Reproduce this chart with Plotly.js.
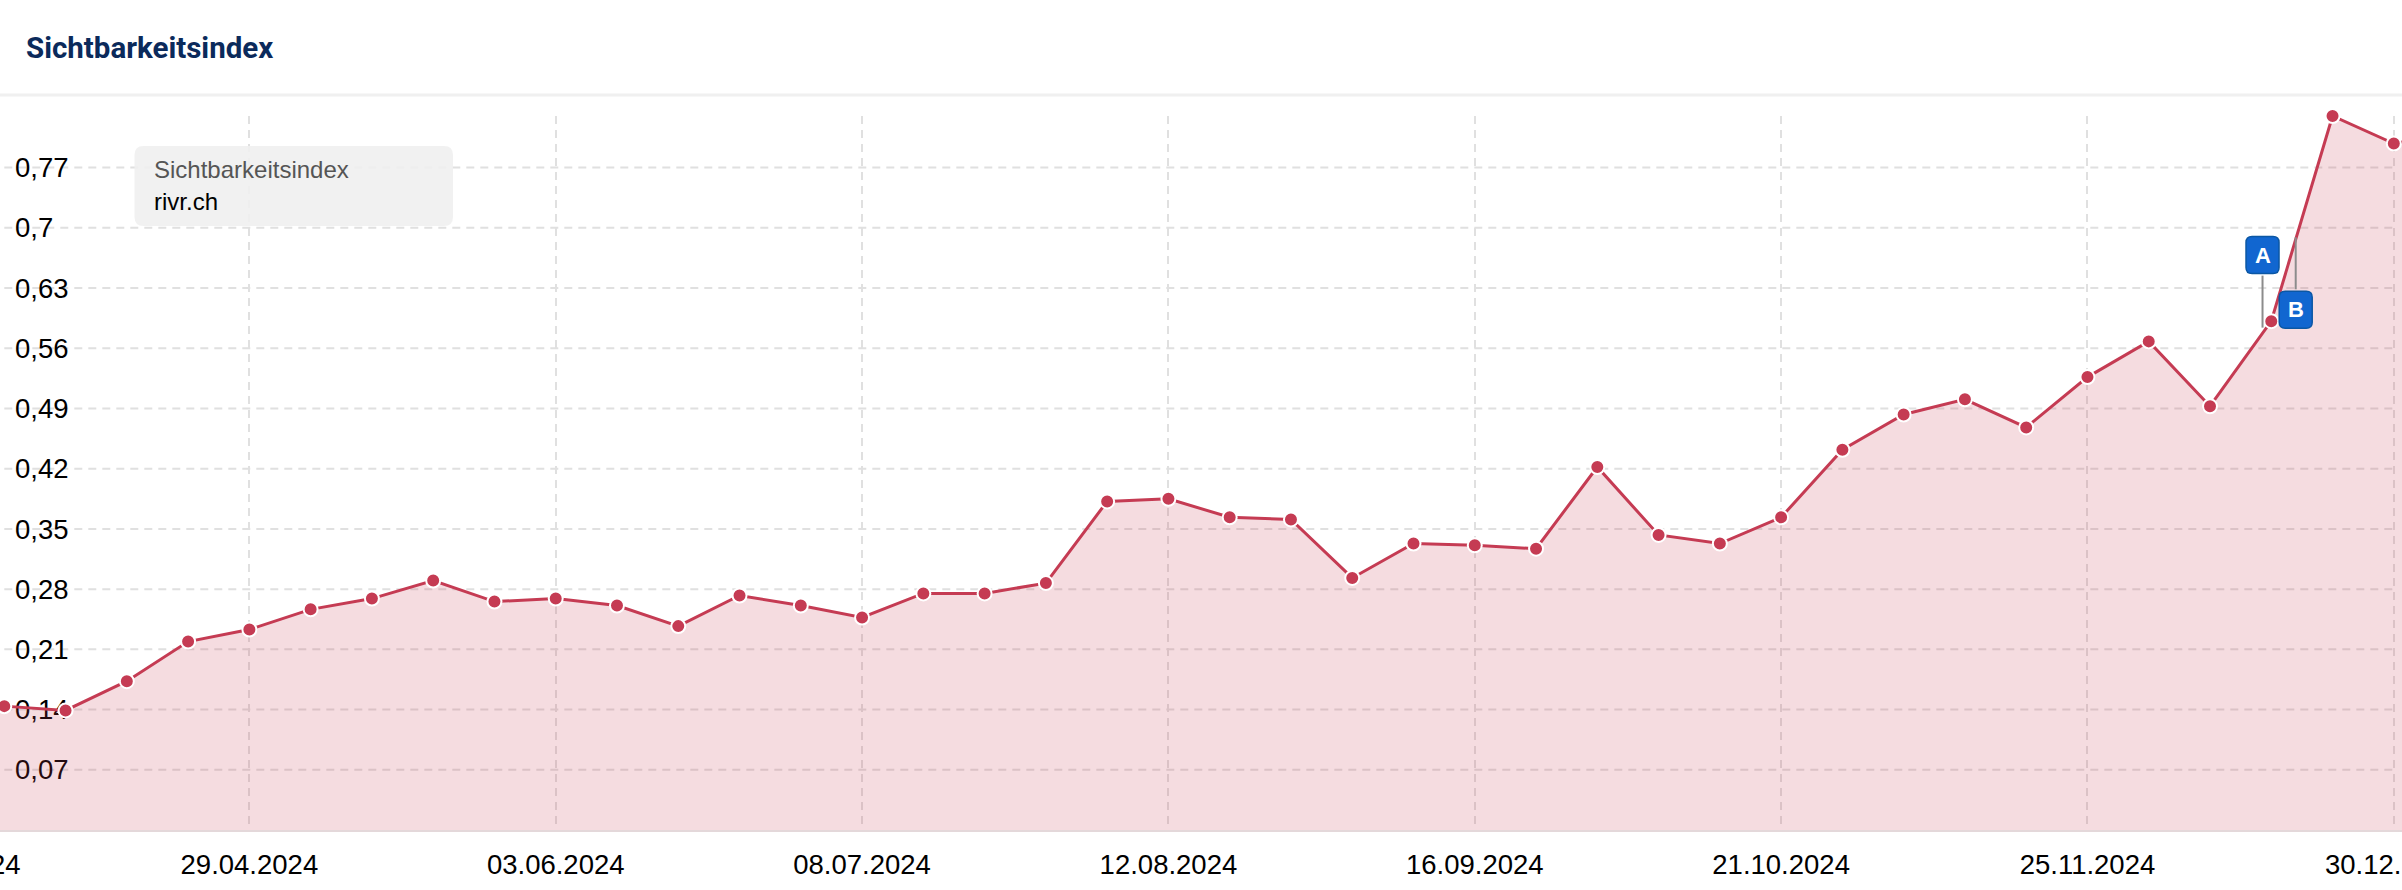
<!DOCTYPE html>
<html>
<head>
<meta charset="utf-8">
<script src="https://cdn.plot.ly/plotly-3.0.1.min.js"></script>
<style>
  html, body { margin: 0; padding: 0; background: #fff; overflow: hidden; width: 2402px; height: 890px; }
  /* the chart runs past both window edges, the first and last tick labels get cut like in the original */
  #chart { position: absolute; left: -120px; top: 0; width: 2640px; height: 890px; }
</style>
</head>
<body>
<div id="chart"></div>
<script>
'use strict';

// Weekly dates, from 25.03.2024 to 06.01.2025
const dates = [
    '2024-03-25', '2024-04-01', '2024-04-08', '2024-04-15', '2024-04-22', '2024-04-29',
    '2024-05-06', '2024-05-13', '2024-05-20', '2024-05-27', '2024-06-03', '2024-06-10',
    '2024-06-17', '2024-06-24', '2024-07-01', '2024-07-08', '2024-07-15', '2024-07-22',
    '2024-07-29', '2024-08-05', '2024-08-12', '2024-08-19', '2024-08-26', '2024-09-02',
    '2024-09-09', '2024-09-16', '2024-09-23', '2024-09-30', '2024-10-07', '2024-10-14',
    '2024-10-21', '2024-10-28', '2024-11-04', '2024-11-11', '2024-11-18', '2024-11-25',
    '2024-12-02', '2024-12-09', '2024-12-16', '2024-12-23', '2024-12-30', '2025-01-06'
];

const values = [
    0.150, 0.144, 0.139, 0.173, 0.219, 0.233,
    0.2565, 0.269, 0.290, 0.2655, 0.269, 0.261,
    0.237, 0.2726, 0.261, 0.247, 0.275, 0.275,
    0.287, 0.382, 0.385, 0.3635, 0.361, 0.293,
    0.333, 0.331, 0.327, 0.422, 0.343, 0.333,
    0.3635, 0.442, 0.483, 0.5006, 0.468, 0.5265,
    0.568, 0.4926, 0.5915, 0.83, 0.798, 0.810
];

// Only these two are inside the horizontal grid
const firstDate = '2024-04-01';
const lastDate = '2024-12-30';

// first tick sits a day late, its label is a bit right of centre in the original
const xTickVals = ['2024-03-26', '2024-04-29', '2024-06-03', '2024-07-08', '2024-08-12',
    '2024-09-16', '2024-10-21', '2024-11-25', '2024-12-30'];
const xTickText = ['25.03.2024', '29.04.2024', '03.06.2024', '08.07.2024', '12.08.2024',
    '16.09.2024', '21.10.2024', '25.11.2024', '30.12.2024'];

const yTickVals = [0.07, 0.14, 0.21, 0.28, 0.35, 0.42, 0.49, 0.56, 0.63, 0.7, 0.77];
const yTickText = ['0,07', '0,14', '0,21', '0,28', '0,35', '0,42', '0,49', '0,56', '0,63', '0,7', '0,77'];

const flagLabels = ['A', 'B'];
const flagDates = ['2024-12-15', '2024-12-18 19:00'];
const flagTips = [0.584, 0.689];
const flagDirs = [1, -1];

const seriesName = 'Sichtbarkeitsindex';
const domainName = 'rivr.ch';

const FONT = '"Liberation Sans", Arial, sans-serif';
const RED = '#c53b53';
const GRID = '#e0e0e0';

// window pixels to paper fractions
function xp(px) {
    return (px + 120) / 2640;
}

function yp(py) {
    return 1 - (py - 116) / 714;
}

function roundedPath(x0, y0, x1, y1, r) {
    return 'M ' + (x0 + r) + ' ' + y0 +
        ' L ' + (x1 - r) + ' ' + y0 + ' Q ' + x1 + ' ' + y0 + ' ' + x1 + ' ' + (y0 + r) +
        ' L ' + x1 + ' ' + (y1 - r) + ' Q ' + x1 + ' ' + y1 + ' ' + (x1 - r) + ' ' + y1 +
        ' L ' + (x0 + r) + ' ' + y1 + ' Q ' + x0 + ' ' + y1 + ' ' + x0 + ' ' + (y1 - r) +
        ' L ' + x0 + ' ' + (y0 + r) + ' Q ' + x0 + ' ' + y0 + ' ' + (x0 + r) + ' ' + y0 + ' Z';
}

let shapes = [];
let annotations = [];

// header rule
shapes.push({
    type: 'line', xref: 'paper', yref: 'paper', x0: 0, x1: 1, y0: yp(95), y1: yp(95),
    line: { color: '#f0f0f0', width: 3 }
});

// horizontal grid stops at the first and last week
for (let v of yTickVals) {
    shapes.push({
        type: 'line', xref: 'x', yref: 'y', x0: firstDate, x1: lastDate, y0: v, y1: v,
        layer: 'below',
        line: { color: GRID, width: 2, dash: '8px,6px' }
    });
}

// grey info box
shapes.push({
    type: 'path', xref: 'paper', yref: 'paper', layer: 'above',
    xsizemode: 'pixel', ysizemode: 'pixel', xanchor: xp(134.5), yanchor: yp(226),
    path: roundedPath(0, 0, 318.5, 80, 9),
    fillcolor: 'rgba(239,239,239,0.88)', line: { width: 0 }
});
annotations.push({
    xref: 'paper', yref: 'paper', x: xp(152), y: yp(169.5), xanchor: 'left', yanchor: 'middle',
    text: seriesName, showarrow: false, font: { family: FONT, size: 24, color: '#555555' }
});
annotations.push({
    xref: 'paper', yref: 'paper', x: xp(152), y: yp(201.5), xanchor: 'left', yanchor: 'middle',
    text: domainName, showarrow: false, font: { family: FONT, size: 24, color: '#000000' }
});

// flags A and B
for (let i in flagLabels) {
    let dir = flagDirs[i];
    let boxNear = dir * 54;
    let boxFar = dir * 91;
    shapes.push({
        type: 'path', xref: 'x', yref: 'y', layer: 'above',
        xsizemode: 'pixel', ysizemode: 'pixel', xanchor: flagDates[i], yanchor: flagTips[i],
        path: 'M 0 0 L 0 ' + (dir * 52),
        line: { color: '#8c8c8c', width: 2 }
    });
    shapes.push({
        type: 'path', xref: 'x', yref: 'y', layer: 'above',
        xsizemode: 'pixel', ysizemode: 'pixel', xanchor: flagDates[i], yanchor: flagTips[i],
        path: roundedPath(-16.5, Math.min(boxNear, boxFar), 16.5, Math.max(boxNear, boxFar), 6),
        fillcolor: '#1166d0', line: { color: '#0b57a4', width: 1.5 }
    });
    annotations.push({
        xref: 'x', yref: 'y', x: flagDates[i], y: flagTips[i], yshift: dir * 72.5,
        xanchor: 'center', yanchor: 'middle', text: '<b>' + flagLabels[i] + '</b>', showarrow: false,
        font: { family: FONT, size: 22, color: '#ffffff' }
    });
}

let trace = {
    x: dates,
    y: values,
    type: 'scatter',
    mode: 'lines+markers',
    fill: 'tozeroy',
    fillcolor: 'rgba(197,59,83,0.18)',
    line: { color: RED, width: 3 },
    marker: { color: RED, size: 14, line: { color: '#ffffff', width: 2 } },
    cliponaxis: false,
    hoverinfo: 'skip'
};

let layout = {
    width: 2640,
    height: 890,
    margin: { l: 0, r: 0, t: 116, b: 60, pad: 0 },
    paper_bgcolor: '#ffffff',
    plot_bgcolor: '#ffffff',
    showlegend: false,
    title: {
        text: seriesName,
        xref: 'container', yref: 'container',
        x: xp(26), xanchor: 'left',
        y: 1 - 48 / 890, yanchor: 'middle',
        font: { family: 'Roboto, sans-serif', size: 29.5, weight: 700, color: '#0b2a5b' }
    },
    xaxis: {
        type: 'date',
        range: ['2024-03-17 19:12', '2025-01-13 10:00'],
        tickmode: 'array',
        tickvals: xTickVals,
        ticktext: xTickText,
        ticks: 'outside',
        ticklen: 9,
        tickcolor: 'rgba(0,0,0,0)',
        tickfont: { family: FONT, size: 27.5, color: '#000000' },
        ticklabeloverflow: 'allow',
        showgrid: true,
        gridcolor: GRID,
        gridwidth: 2,
        griddash: '8px,6px',
        showline: true,
        linecolor: '#e4d8da',
        linewidth: 1.5,
        zeroline: false
    },
    yaxis: {
        range: [0, 0.83],
        anchor: 'free',
        position: xp(4.5),
        side: 'right',
        tickmode: 'array',
        tickvals: yTickVals,
        ticktext: yTickText,
        ticks: 'outside',
        ticklen: 4,
        tickcolor: 'rgba(0,0,0,0)',
        tickfont: { family: FONT, size: 27.5, color: '#000000' },
        layer: 'below traces',
        showgrid: false,
        showline: false,
        zeroline: false
    },
    shapes: shapes,
    annotations: annotations
};

Plotly.newPlot('chart', [trace], layout, { displayModeBar: false, staticPlot: true });
</script>
</body>
</html>
